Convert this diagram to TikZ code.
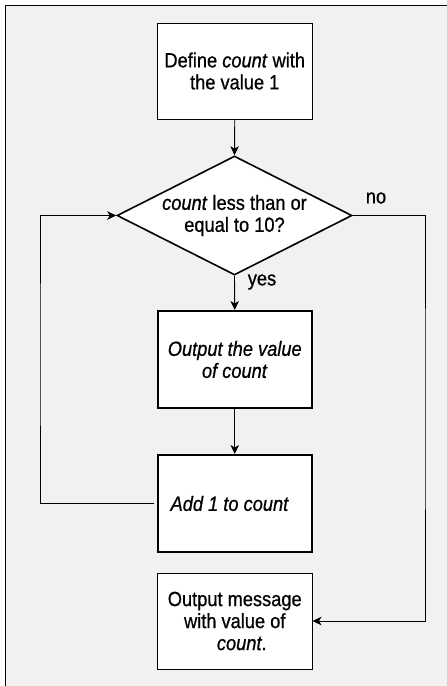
\documentclass[tikz,border=0pt]{standalone}
\usepackage{fontspec}
\setmainfont{Liberation Sans}[FakeStretch=0.89,FakeBold=0.7]
\usetikzlibrary{shapes.geometric,arrows.meta}
\definecolor{bg}{HTML}{F1F1F1}
\begin{document}
\begin{tikzpicture}[x=1pt,y=-1pt,
  font=\fontsize{20.5}{22}\selectfont,
  thinbox/.style={draw, line width=1pt, fill=white, minimum width=154.5pt, minimum height=96pt, align=center, inner sep=0pt},
  thickbox/.style={thinbox, line width=2pt},
  decision/.style={diamond, draw, line width=1.6pt, fill=white, aspect=2, inner sep=0pt, minimum width=235pt, minimum height=119pt, align=center},
  flow/.style={draw, line width=0.9pt, -{Stealth[length=9pt,width=8.5pt,inset=2.5pt]}},
  lbl/.style={inner sep=0pt}]
\useasboundingbox (0,0) rectangle (447,686);
\fill[white] (0,0) rectangle (447,686);
\fill[bg] (5.7,5.7) rectangle (447,686);
\draw[line width=1.2pt] (5.7,686) -- (5.7,5.7) -- (447,5.7);

\node[thinbox] (define) at (234.75,71) {Define \textit{count} with\\the value 1};
\node[decision] (test) at (234.5,215.5) {\textit{count} less than or\\equal to 10?};
\node[thickbox, minimum height=97pt] (show) at (234.75,359.5) {\textit{Output the value}\\\textit{of count}};
\node[thickbox, minimum height=97pt] (add) at (234.75,503.5) {\textit{Add 1 to count}\hspace*{10pt}};
\node[thinbox] (final) at (234.75,621) {Output message\\with value of\\\hspace*{14pt}\textit{count}.};

\node[lbl] (nolbl) at (376,198) {no};
\node[lbl] (yeslbl) at (262,282) {yes};

\coordinate (loopL) at (40,350);
\coordinate (noR) at (425,400);

\draw[flow] (define.south) -- (test.north);
\draw[flow] (test.south) -- (show.north);
\draw[flow] (show.south) -- (add.north);
\draw[flow, shorten <=3pt] (add.west) -| (loopL) |- (test.west);
\draw[flow] (test.east) -| (noR) |- (final.east);
\end{tikzpicture}
\end{document}
